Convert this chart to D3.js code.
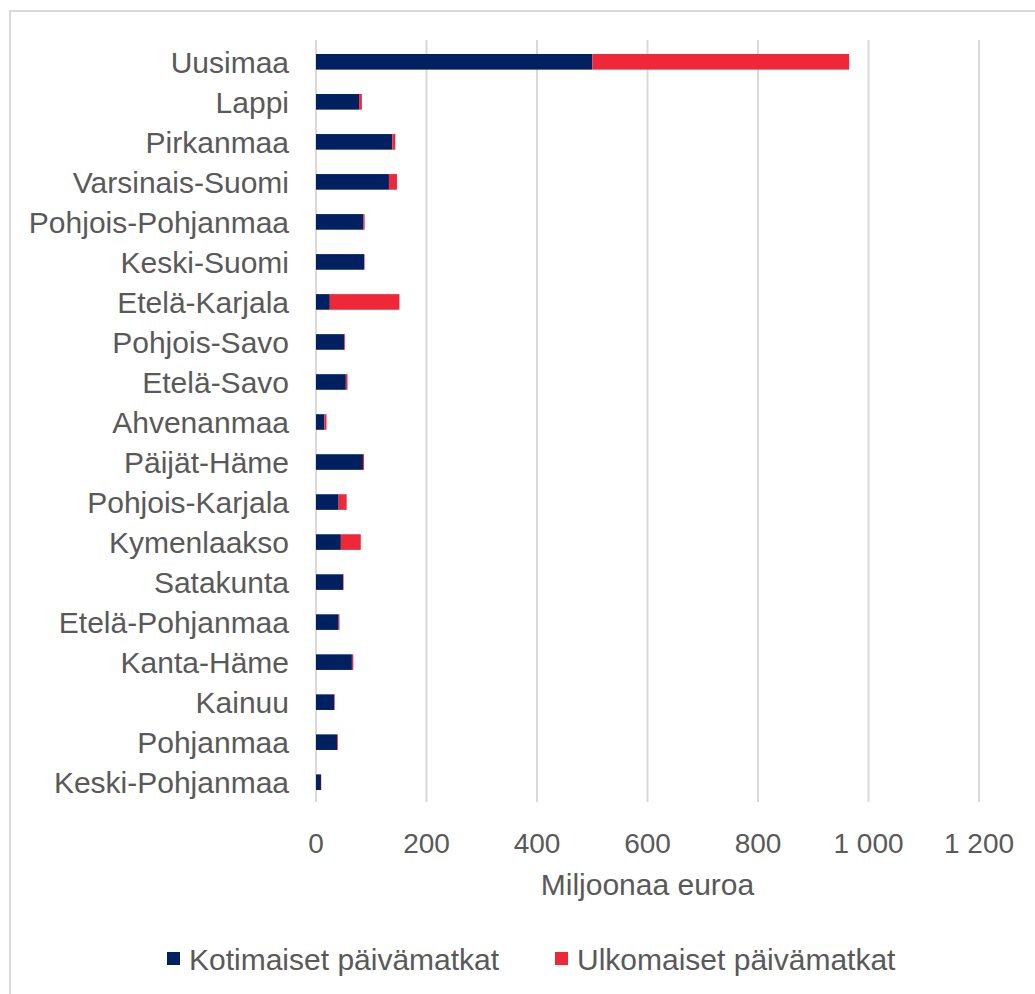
<!DOCTYPE html>
<html>
<head>
<meta charset="utf-8">
<script src="https://cdn.jsdelivr.net/npm/d3@7"></script>
<style>
  body { margin: 0; background: #fff; }
  text { font-family: "Liberation Sans", Arial, sans-serif; fill: #595959; }
</style>
</head>
<body>
<div class="canvas"></div>
<script>
// Data
const regions = ["Uusimaa", "Lappi", "Pirkanmaa", "Varsinais-Suomi", "Pohjois-Pohjanmaa",
  "Keski-Suomi", "Etelä-Karjala", "Pohjois-Savo", "Etelä-Savo", "Ahvenanmaa", "Päijät-Häme",
  "Pohjois-Karjala", "Kymenlaakso", "Satakunta", "Etelä-Pohjanmaa", "Kanta-Häme", "Kainuu",
  "Pohjanmaa", "Keski-Pohjanmaa"];
const domestic = [500, 78, 138, 132, 86, 87, 25, 51, 54, 15, 85, 41, 45, 49, 41, 65, 33, 38, 9];
const foreign = [465, 5, 5.5, 14.5, 2, 1, 126, 1.5, 3, 4, 2, 14.5, 36, 1, 1.5, 2.5, 1, 1.5, 0.5];
const seriesNames = ["Kotimaiset päivämatkat", "Ulkomaiset päivämatkat"];
const tickValues = [0, 200, 400, 600, 800, 1000, 1200];
const colors = ["#002060", "#EE2839"];

const width = 1035, height = 994;
const margin = { top: 42, right: 56, bottom: 192, left: 316 };

const svg = d3.select('.canvas')
    .append('svg')
    .attr('width', width)
    .attr('height', height);

// outer frame (continues past the right/bottom edge)
svg.append('rect')
    .attr('x', 10).attr('y', 11)
    .attr('width', 1200).attr('height', 1200)
    .attr('fill', 'none')
    .attr('stroke', '#d9d9d9')
    .attr('stroke-width', 2);

const x = d3.scaleLinear()
    .domain([0, 1200])
    .range([margin.left, width - margin.right]);

const y = d3.scaleBand()
    .domain(regions)
    .range([margin.top, margin.top + 40 * regions.length])
    .paddingInner(0.61)
    .paddingOuter(0.3);

// gridlines
svg.append('g')
    .selectAll('line')
    .data(tickValues)
    .join('line')
    .attr('x1', d => x(d)).attr('x2', d => x(d))
    .attr('y1', 40).attr('y2', 802)
    .attr('stroke', '#d9d9d9')
    .attr('stroke-width', 2);

// stacked bars
const rows = regions.map((r, i) => ({ region: r, values: [domestic[i], foreign[i]] }));
const stack = d3.stack()
    .keys([0, 1])
    .value((d, k) => d.values[k]);
const layers = stack(rows);

svg.append('g')
    .selectAll('g')
    .data(layers)
    .join('g')
    .attr('fill', (d, i) => colors[i])
    .selectAll('rect')
    .data(d => d)
    .join('rect')
    .attr('x', d => x(d[0]))
    .attr('width', d => x(d[1]) - x(d[0]))
    .attr('y', d => y(d.data.region))
    .attr('height', y.bandwidth());

// category labels
svg.append('g')
    .selectAll('text')
    .data(regions)
    .join('text')
    .attr('x', 289)
    .attr('y', d => y(d) + y.bandwidth() / 2)
    .attr('dy', '0.36em')
    .attr('text-anchor', 'end')
    .style('font-size', '30px')
    .text(d => d);

// x axis tick labels
const fmt = d => d3.format(',')(d).replace(/,/g, ' ');
svg.append('g')
    .selectAll('text')
    .data(tickValues)
    .join('text')
    .attr('x', d => x(d))
    .attr('y', 853)
    .attr('text-anchor', 'middle')
    .style('font-size', '28px')
    .text(fmt);

svg.append('text')
    .attr('x', (x(0) + x(1200)) / 2)
    .attr('y', 895)
    .attr('text-anchor', 'middle')
    .style('font-size', '30px')
    .text('Miljoonaa euroa');

// legend
const legendX = [167, 555];
const legend = svg.append('g')
    .selectAll('g')
    .data(seriesNames)
    .join('g')
    .attr('transform', (d, i) => `translate(${legendX[i]},952)`);

legend.append('rect')
    .attr('width', 13).attr('height', 13)
    .attr('fill', (d, i) => colors[i]);

legend.append('text')
    .attr('x', 22)
    .attr('y', 7)
    .attr('dy', '0.36em')
    .style('font-size', '30px')
    .text(d => d);
</script>
</body>
</html>
